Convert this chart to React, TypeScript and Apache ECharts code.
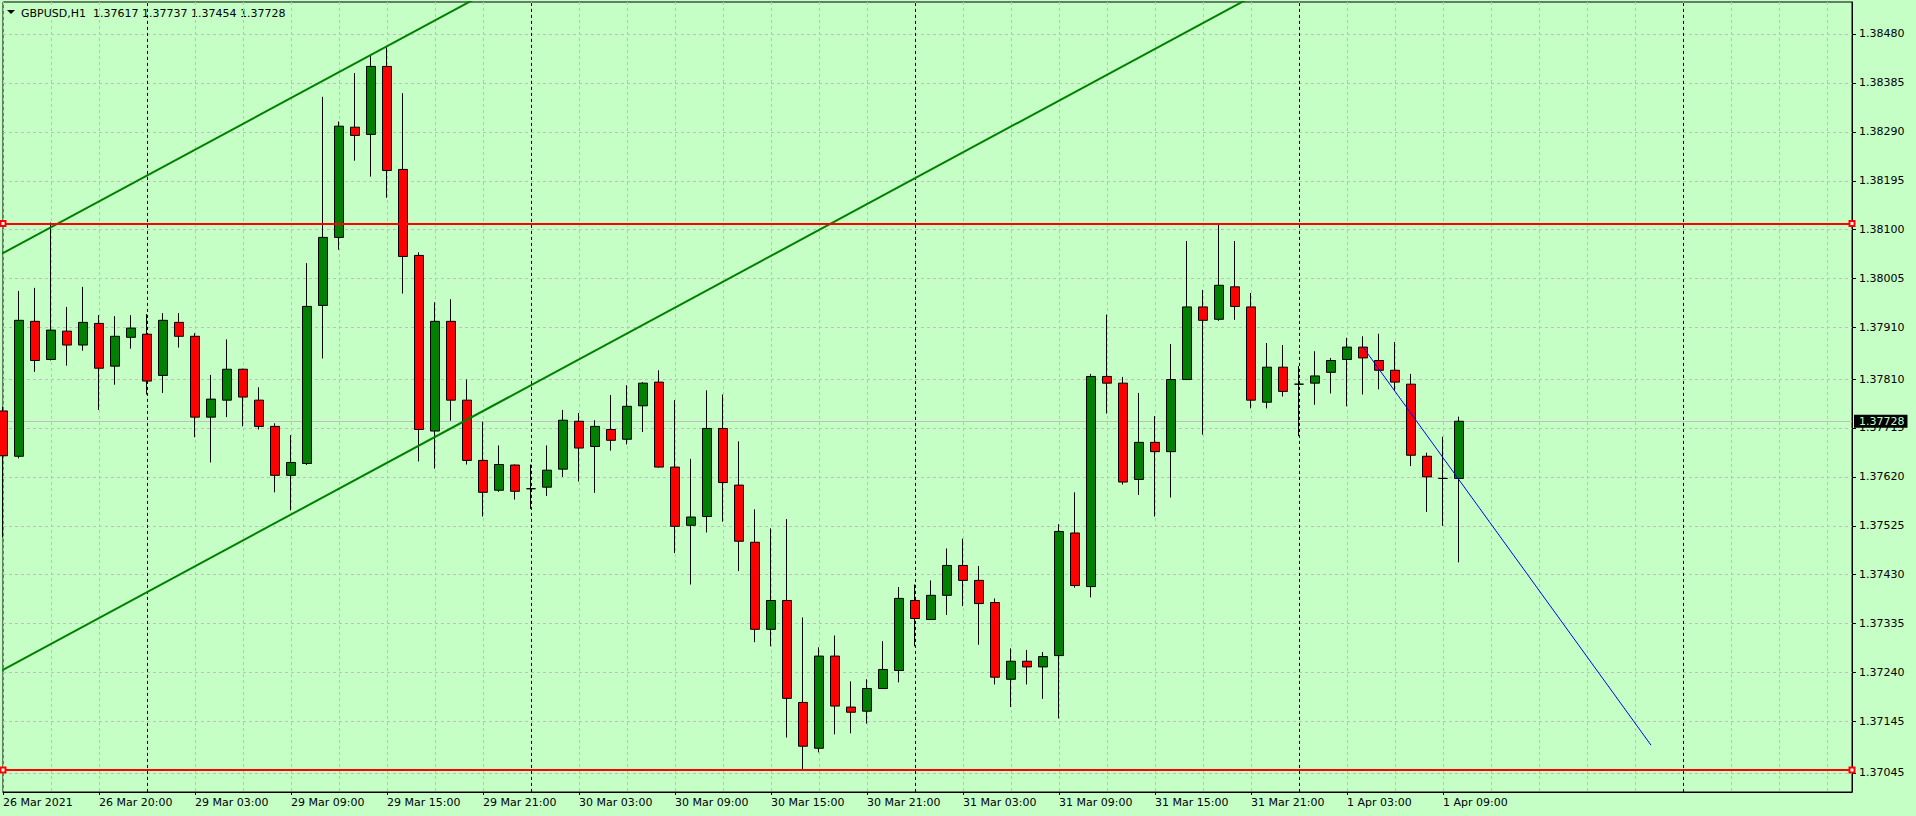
import React, { useEffect, useRef } from "react";
import * as echarts from "echarts";

const symbolName = "GBPUSD";
const timeframe = "H1";

// OHLC of each hourly bar, bar index 0 = 26 Mar 2021 14:00
const opens = [
  1.37748, 1.3766, 1.37922, 1.37848, 1.37903, 1.37876, 1.37918, 1.37835, 1.37891, 1.37897,
  1.37817, 1.3792, 1.37893, 1.37736, 1.37769, 1.37829, 1.37769, 1.37718, 1.37623, 1.37646,
  1.37953, 1.38085, 1.38299, 1.38285, 1.38417, 1.38217, 1.3805, 1.37709, 1.37922, 1.37769,
  1.37652, 1.37594, 1.37643, 1.37597, 1.376, 1.37635, 1.37728, 1.37679, 1.37712, 1.37693,
  1.37758, 1.37804, 1.37639, 1.37526, 1.37543, 1.37714, 1.37604, 1.37493, 1.37324, 1.3738,
  1.37182, 1.37093, 1.37272, 1.37173, 1.37165, 1.37209, 1.37244, 1.3738, 1.37343, 1.3739,
  1.37448, 1.37419, 1.37376, 1.37227, 1.37262, 1.37251, 1.37273, 1.37511, 1.37407, 1.37815,
  1.37802, 1.37615, 1.37687, 1.37669, 1.37809, 1.3795, 1.37926, 1.37989, 1.3795, 1.37765,
  1.37833, 1.378, 1.37802, 1.37823, 1.37848, 1.37872, 1.37846, 1.37827, 1.378, 1.3766,
  1.37617, 1.37617,
];
const highs = [
  1.37756, 1.37981, 1.37987, 1.38114, 1.3795, 1.37989, 1.37934, 1.37932, 1.37934, 1.37936,
  1.37938, 1.37938, 1.37899, 1.37818, 1.37887, 1.3783, 1.37794, 1.37724, 1.37701, 1.38035,
  1.38358, 1.3831, 1.38404, 1.38439, 1.38456, 1.38365, 1.38056, 1.37959, 1.37965, 1.37809,
  1.37727, 1.37681, 1.37644, 1.37644, 1.37681, 1.3775, 1.37744, 1.3773, 1.37779, 1.37798,
  1.37804, 1.37827, 1.37769, 1.37655, 1.37788, 1.3778, 1.37689, 1.37557, 1.3752, 1.37538,
  1.37347, 1.37289, 1.37312, 1.37223, 1.37227, 1.37301, 1.37406, 1.37411, 1.37419, 1.37481,
  1.375, 1.37447, 1.37384, 1.37287, 1.37284, 1.3728, 1.37528, 1.3759, 1.3782, 1.37935,
  1.37814, 1.37783, 1.37738, 1.37878, 1.38078, 1.37983, 1.38111, 1.38078, 1.37977, 1.3788,
  1.37876, 1.37835, 1.37864, 1.37851, 1.3789, 1.37893, 1.37898, 1.37882, 1.3782, 1.37667,
  1.37698, 1.37737,
];
const lows = [
  1.37503, 1.37656, 1.37824, 1.37846, 1.37836, 1.37865, 1.3775, 1.37799, 1.37869, 1.3778,
  1.37783, 1.37871, 1.37697, 1.37648, 1.37736, 1.37718, 1.37712, 1.3759, 1.37555, 1.37643,
  1.3785, 1.38061, 1.38234, 1.38203, 1.38162, 1.37976, 1.3765, 1.37636, 1.37729, 1.37644,
  1.37543, 1.37591, 1.37576, 1.37558, 1.37583, 1.3762, 1.37611, 1.37589, 1.37671, 1.37683,
  1.37707, 1.37638, 1.37472, 1.37411, 1.37512, 1.37533, 1.37437, 1.37299, 1.37291, 1.37114,
  1.37051, 1.37085, 1.3712, 1.37122, 1.37141, 1.37209, 1.37221, 1.37291, 1.37342, 1.37352,
  1.37369, 1.37294, 1.37217, 1.37173, 1.37217, 1.37189, 1.37151, 1.37405, 1.37386, 1.37743,
  1.37605, 1.37585, 1.37543, 1.3758, 1.37808, 1.37702, 1.37923, 1.37925, 1.37753, 1.37753,
  1.37776, 1.37699, 1.3776, 1.37782, 1.37757, 1.3778, 1.3779, 1.37787, 1.37641, 1.37552,
  1.37525, 1.37454,
];
const closes = [
  1.37661, 1.37924, 1.37846, 1.37905, 1.37876, 1.3792, 1.37831, 1.37893, 1.37909, 1.37806,
  1.37924, 1.37893, 1.37736, 1.37771, 1.37829, 1.37775, 1.37718, 1.37623, 1.37648, 1.37951,
  1.38085, 1.38301, 1.38283, 1.38417, 1.38215, 1.38048, 1.37712, 1.37922, 1.37769, 1.37652,
  1.3759, 1.37644, 1.37592, 1.37597, 1.37633, 1.3773, 1.37676, 1.37718, 1.37691, 1.37757,
  1.37802, 1.37639, 1.37524, 1.37542, 1.37714, 1.37609, 1.37495, 1.37324, 1.3738, 1.3719,
  1.37097, 1.37272, 1.37175, 1.37163, 1.37209, 1.37246, 1.37384, 1.37345, 1.3739, 1.37448,
  1.37419, 1.37374, 1.37231, 1.37262, 1.37251, 1.37271, 1.37514, 1.37409, 1.37815, 1.37802,
  1.3761, 1.37687, 1.37669, 1.37809, 1.3795, 1.37924, 1.37992, 1.37951, 1.37769, 1.37833,
  1.37786, 1.378, 1.37816, 1.37846, 1.37872, 1.37851, 1.37827, 1.37804, 1.37662, 1.3762,
  1.37617, 1.37728,
];

// time axis tick labels (every 6 bars)
const xTickIndex = [0, 6, 12, 18, 24, 30, 36, 42, 48, 54, 60, 66, 72, 78, 84, 90];
const xTickLabels = [
  "26 Mar 2021", "26 Mar 20:00", "29 Mar 03:00", "29 Mar 09:00", "29 Mar 15:00", "29 Mar 21:00",
  "30 Mar 03:00", "30 Mar 09:00", "30 Mar 15:00", "30 Mar 21:00", "31 Mar 03:00", "31 Mar 09:00",
  "31 Mar 15:00", "31 Mar 21:00", "1 Apr 03:00", "1 Apr 09:00",
];
// price axis tick labels
const yTickValues = [
  1.3848, 1.38385, 1.3829, 1.38195, 1.381, 1.38005, 1.3791, 1.3781, 1.37715, 1.3762,
  1.37525, 1.3743, 1.37335, 1.3724, 1.37145, 1.37045,
];

// day separators (bar index of midnight)
const daySeparators = [9, 33, 57, 81, 105];
// horizontal levels
const levelLines = [1.38112, 1.37051];
// trend lines: [bar index, price]
const channelUpper = [[-2, 1.38021], [40, 1.38724]];
const channelLower = [[-2, 1.37212], [80, 1.38585]];
const blueTrend = [[85, 1.37872], [103, 1.37099]];

// visible range
const xMin = 0;
const xMax = 115.5625;
const yMin = 1.370081;
const yMax = 1.385421;

const FONT = "DejaVu Sans";
const BG = "#c6ffc6";
const GRID = "#c3bcc3";

export default function App() {
  const ref = useRef<HTMLDivElement>(null);

  useEffect(() => {
    if (!ref.current) return;
    const chart = echarts.init(ref.current, null, { renderer: "svg" });
    const last = closes.length - 1;
    const lastClose = closes[last];
    const titleText =
      `${symbolName},${timeframe}  ${opens[last].toFixed(5)} ${highs[last].toFixed(5)} ` +
      `${lows[last].toFixed(5)} ${closes[last].toFixed(5)}`;

    const candleData = opens.map((o, i) => [i, o, closes[i], lows[i], highs[i]]);

    const option: any = {
      animation: false,
      backgroundColor: BG,
      grid: {
        left: 3,
        right: 64,
        top: 2,
        bottom: 24,
        show: true,
        borderColor: "#000",
        borderWidth: 1,
        backgroundColor: "transparent",
      },
      xAxis: [
        {
          type: "value",
          min: xMin,
          max: xMax,
          interval: 3,
          position: "top",
          axisLine: { show: false },
          axisTick: { show: false },
          axisLabel: { show: false },
          splitLine: { show: true, lineStyle: { color: GRID, type: [3, 3], width: 1 } },
        },
        {
          type: "value",
          min: xMin,
          max: xMax,
          interval: 6,
          position: "bottom",
          axisLine: { show: true, onZero: false, lineStyle: { color: "#000", width: 1 } },
          axisTick: {
            show: true,
            customValues: xTickIndex,
            length: 3,
            lineStyle: { color: "#000", width: 1 },
          },
          axisLabel: {
            show: true,
            customValues: xTickIndex,
            formatter: (v: number) => {
              const i = xTickIndex.indexOf(Math.round(v));
              return i >= 0 ? xTickLabels[i] : "";
            },
            align: "left",
            margin: 5,
            color: "#000",
            fontFamily: FONT,
            fontSize: 11,
          },
          splitLine: { show: false },
        },
      ],
      yAxis: {
        type: "value",
        position: "right",
        min: yMin,
        max: yMax,
        axisLine: { show: true, onZero: false, lineStyle: { color: "#000", width: 1 } },
        axisTick: {
          show: true,
          customValues: yTickValues,
          length: 4,
          lineStyle: { color: "#000", width: 1 },
        },
        axisLabel: {
          show: true,
          customValues: yTickValues,
          formatter: (v: number) => v.toFixed(5),
          margin: 7,
          color: "#000",
          fontFamily: FONT,
          fontSize: 11,
        },
        splitLine: { show: true, lineStyle: { color: GRID, type: [3, 3], width: 1 } },
      },
      graphic: [
        {
          type: "polygon",
          shape: { points: [[7, 10], [15, 10], [11, 14]] },
          style: { fill: "#000" },
        },
        {
          type: "text",
          x: 21,
          y: 13,
          style: {
            text: titleText,
            font: `11px "${FONT}"`,
            fill: "#000",
            verticalAlign: "middle",
          },
        },
      ],
      series: [
        {
          name: "separators",
          type: "line",
          xAxisIndex: 1,
          data: [],
          z: 1,
          silent: true,
          markLine: {
            silent: true,
            z: 1,
            symbol: "none",
            precision: 5,
            label: { show: false },
            lineStyle: { color: "#000", type: [3, 3], width: 1 },
            data: daySeparators.map((k) => ({ xAxis: k })),
          },
        },
        {
          name: "price",
          type: "line",
          xAxisIndex: 1,
          data: [],
          z: 1,
          clip: false,
          silent: true,
          markLine: {
            silent: true,
            z: 1,
            symbol: "none",
            precision: 5,
            lineStyle: { color: "#c0c0c0", type: "solid", width: 1 },
            label: {
              show: true,
              position: "end",
              distance: 2,
              formatter: lastClose.toFixed(5),
              backgroundColor: "#000",
              color: "#c6ffc6",
              fontFamily: FONT,
              fontSize: 11,
              padding: [1, 3, 1, 5],
            },
            data: [{ yAxis: lastClose }],
          },
        },
        {
          name: symbolName,
          type: "candlestick",
          xAxisIndex: 1,
          z: 2,
          barWidth: 10,
          clip: true,
          data: candleData,
          itemStyle: {
            color: "#008000",
            color0: "#ff0000",
            borderColor: "#000",
            borderColor0: "#000",
            borderColorDoji: "#000",
            borderWidth: 1,
          },
        },
        {
          name: "channelUpper",
          type: "line",
          xAxisIndex: 1,
          z: 4,
          clip: true,
          symbol: "none",
          showSymbol: false,
          lineStyle: { color: "#008000", width: 2 },
          data: channelUpper,
        },
        {
          name: "channelLower",
          type: "line",
          xAxisIndex: 1,
          z: 4,
          clip: true,
          symbol: "none",
          showSymbol: false,
          lineStyle: { color: "#008000", width: 2 },
          data: channelLower,
        },
        {
          name: "trend",
          type: "line",
          xAxisIndex: 1,
          z: 4,
          clip: true,
          symbol: "none",
          showSymbol: false,
          lineStyle: { color: "#0000ff", width: 1 },
          data: blueTrend,
        },
        {
          name: "levels",
          type: "line",
          xAxisIndex: 1,
          data: [],
          z: 5,
          silent: true,
          markLine: {
            silent: true,
            z: 5,
            symbol: ["emptyRect", "emptyRect"],
            symbolSize: 5,
            precision: 5,
            label: { show: false },
            lineStyle: { color: "#ff0000", type: "solid", width: 2 },
            data: levelLines.map((v) => ({ yAxis: v })),
          },
        },
      ],
    };

    chart.setOption(option);
    return () => chart.dispose();
  }, []);

  return (
    <div
      ref={ref}
      style={{ position: "fixed", left: 0, top: 0, width: 1916, height: 816 }}
    />
  );
}
